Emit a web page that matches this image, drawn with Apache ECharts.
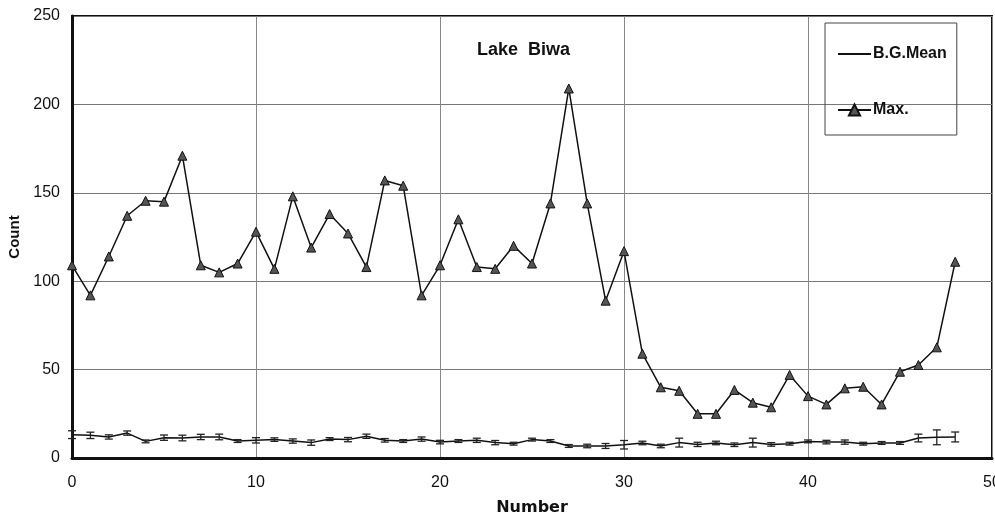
<!DOCTYPE html>
<html>
<head>
<meta charset="utf-8">
<script src="https://cdn.jsdelivr.net/npm/echarts@6/dist/echarts.min.js"></script>
<style>html,body{margin:0;padding:0;background:#fff}#c{width:995px;height:518px}</style>
</head>
<body>
<div id="c"></div>
<script>
const numbers = [0,1,2,3,4,5,6,7,8,9,10,11,12,13,14,15,16,17,18,19,20,21,22,23,24,25,26,27,28,29,30,31,32,33,34,35,36,37,38,39,40,41,42,43,44,45,46,47,48];
const maxValues = [109,92,114,137,145.5,145,171,109,105,110,128,107,148,119,138,127,108,157,154,92,109,135,108,107,120,110,144,209,144,89,117,59,40,38,25,25,38.5,31.3,28.7,47,35,30.3,39.4,40.3,30.3,48.8,52.6,62.6,111];
const bgMean = [13.2,12.8,11.9,14.1,9.4,11.5,11.3,11.9,11.9,9.6,10,10.4,9.6,8.7,10.7,10.4,12.3,10,9.6,10.7,9,9.6,10,8.7,8.1,10.4,9.6,6.8,6.8,6.8,7.5,8.5,6.8,8.7,7.7,8.5,7.5,8.7,7.7,8.1,9.4,9,9,8.1,8.5,8.5,11.3,11.7,11.9];
const bgErr = [2.2,1.8,1.2,1.2,0.8,1.5,1.6,1.5,1.6,0.8,1.5,1,1.2,1.5,0.8,1.2,1.2,1,0.8,1.2,1,0.8,1.2,1.2,0.8,0.8,0.8,0.8,1,1.4,2.4,1,1,2.5,1.2,1,1,2.5,1,0.8,0.8,1,1.2,0.8,0.8,0.8,2.2,4.2,2.8];
const xTicks = [0,10,20,30,40,50];
const yTicks = [0,50,100,150,200,250];

const font = "'Liberation Sans', Arial, sans-serif";
const wideFont = "'DejaVu Sans', sans-serif";
const chart = echarts.init(document.getElementById('c'), null, {renderer: 'canvas'});
const errData = numbers.map((n, i) => [n, bgMean[i] - bgErr[i], bgMean[i] + bgErr[i]]);

chart.setOption({
  animation: false,
  backgroundColor: '#fff',
  title: {
    text: 'Lake  Biwa',
    left: 472, top: 36,
    textStyle: {fontFamily: font, fontSize: 18, fontWeight: 'bold', color: '#111'}
  },
  grid: {left: 72, right: 3, top: 16, bottom: 60, show: true, borderColor: '#111', borderWidth: 2, outerBoundsMode: 'none', containLabel: false},
  legend: {
    orient: 'vertical',
    left: 825, top: 23,
    padding: [23, 10, 17, 12],
    itemGap: 40,
    itemWidth: 33, itemHeight: 14,
    borderColor: '#444', borderWidth: 1,
    data: [
      {name: 'B.G.Mean', itemStyle: {color: 'rgba(0,0,0,0)', borderWidth: 0, borderColor: 'rgba(0,0,0,0)'}},
      {name: 'Max.'}
    ],
    textStyle: {fontFamily: font, fontSize: 16, fontWeight: 'bold', color: '#111', padding: [0,0,0,-3]}
  },
  xAxis: {
    type: 'value', min: xTicks[0], max: xTicks[xTicks.length - 1], interval: 10,
    name: 'Number', nameLocation: 'middle', nameGap: 42,
    nameTextStyle: {fontFamily: wideFont, fontSize: 16, fontWeight: 'bold', color: '#111'},
    axisLine: {show: true, lineStyle: {color: '#111', width: 3}},
    axisTick: {show: false},
    axisLabel: {fontFamily: font, fontSize: 16, color: '#111', margin: 17},
    splitLine: {show: true, lineStyle: {color: '#888', width: 1}}
  },
  yAxis: {
    type: 'value', min: yTicks[0], max: yTicks[yTicks.length - 1], interval: 50,
    name: 'Count', nameLocation: 'middle', nameGap: 46, nameRotate: 90,
    nameTextStyle: {fontFamily: font, fontSize: 15, fontWeight: 'bold', color: '#111'},
    axisLine: {show: true, lineStyle: {color: '#111', width: 3}},
    axisTick: {show: false},
    axisLabel: {fontFamily: font, fontSize: 16, color: '#111', margin: 12},
    splitLine: {show: true, lineStyle: {color: '#777', width: 1}}
  },
  series: [
    {
      name: 'B.G.Mean', type: 'line',
      data: numbers.map((n, i) => [n, bgMean[i]]),
      symbol: 'none',
      lineStyle: {color: '#111', width: 1.5},
      itemStyle: {color: '#111'},
      z: 3
    },
    {
      name: 'errbars', type: 'custom',
      data: errData,
      renderItem: function (params, api) {
        const x = api.value(0);
        const lo = api.coord([x, api.value(1)]);
        const hi = api.coord([x, api.value(2)]);
        const w = 4;
        const st = {stroke: '#222', lineWidth: 1.3};
        return {
          type: 'group',
          children: [
            {type: 'line', shape: {x1: lo[0], y1: lo[1], x2: hi[0], y2: hi[1]}, style: st},
            {type: 'line', shape: {x1: lo[0]-w, y1: lo[1], x2: lo[0]+w, y2: lo[1]}, style: st},
            {type: 'line', shape: {x1: hi[0]-w, y1: hi[1], x2: hi[0]+w, y2: hi[1]}, style: st}
          ]
        };
      },
      z: 4
    },
    {
      name: 'Max.', type: 'line',
      data: numbers.map((n, i) => [n, maxValues[i]]),
      symbol: 'triangle', symbolSize: 9,
      lineStyle: {color: '#111', width: 1.5},
      itemStyle: {color: '#555', borderColor: '#111', borderWidth: 1},
      z: 5
    }
  ]
});
</script>
</body>
</html>
